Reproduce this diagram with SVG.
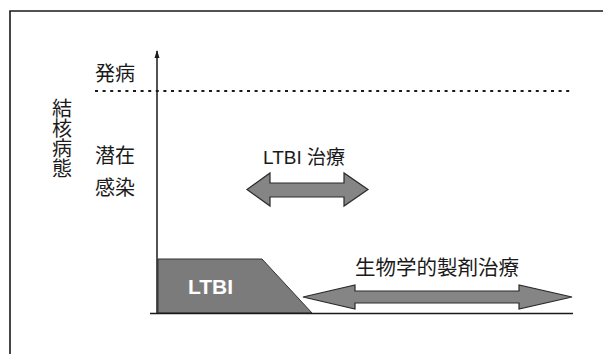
<svg xmlns="http://www.w3.org/2000/svg" width="603" height="354" viewBox="0 0 603 354">
<defs>
<style>
.t{font-family:"Liberation Sans","Noto Sans CJK JP",sans-serif;fill:#1a1a1a}
.arrow{fill:#858585;stroke:#2a2a2a;stroke-width:1.2;stroke-linejoin:miter}
.line{stroke:#1a1a1a;fill:none}
</style>
<marker id="ah" viewBox="0 0 8 6" refX="7" refY="3" markerWidth="8" markerHeight="6" markerUnits="userSpaceOnUse" orient="auto">
<path d="M0,0.5 L8,3 L0,5.5 Z" fill="#1a1a1a"/>
</marker>
</defs>
<rect width="603" height="354" fill="#ffffff"/>
<g id="frame">
<path class="line" d="M10,354 V11 H603" stroke="#555" stroke-width="1.6"/>
</g>
<g id="axis-labels">
<text class="t" x="62" y="116" font-size="20" text-anchor="middle">結</text>
<text class="t" x="62" y="136" font-size="20" text-anchor="middle">核</text>
<text class="t" x="62" y="156" font-size="20" text-anchor="middle">病</text>
<text class="t" x="62" y="176" font-size="20" text-anchor="middle">態</text>
</g>
<g id="level-onset">
<text class="t" x="95" y="81" font-size="20">発病</text>
</g>
<g id="level-latent">
<text class="t" x="95" y="163" font-size="20">潜在</text>
<text class="t" x="95" y="195" font-size="20">感染</text>
</g>
<g id="ltbi-area">
<polygon points="158,259 262,259 312,313 158,313" fill="#7b7b7b" stroke="#333" stroke-width="1"/>
<text x="188" y="294" font-size="21" fill="#ffffff" font-family="Liberation Sans, sans-serif" font-weight="bold">LTBI</text>
</g>
<g id="ltbi-treatment">
<text class="t" x="263" y="164" font-size="19">LTBI 治療</text>
<polygon class="arrow" points="247,189.5 270,173 270,183 344,183 344,173 368,189.5 344,206 344,197 270,197 270,206"/>
</g>
<g id="biologic-treatment">
<text class="t" x="355" y="275" font-size="20.5">生物学的製剤治療</text>
<polygon class="arrow" points="303,297 355,285 355,291 519,291 519,285 572,297 519,309 519,303 355,303 355,309"/>
</g>
<g id="connectors">
<line class="line" x1="157" y1="313" x2="157" y2="51" stroke-width="1.5" marker-end="url(#ah)"/>
<line class="line" x1="150" y1="313.5" x2="573" y2="313.5" stroke-width="1.6"/>
<line class="line" x1="95" y1="91" x2="573" y2="91" stroke-width="2" stroke-dasharray="3 4.6"/>
</g>
</svg>
